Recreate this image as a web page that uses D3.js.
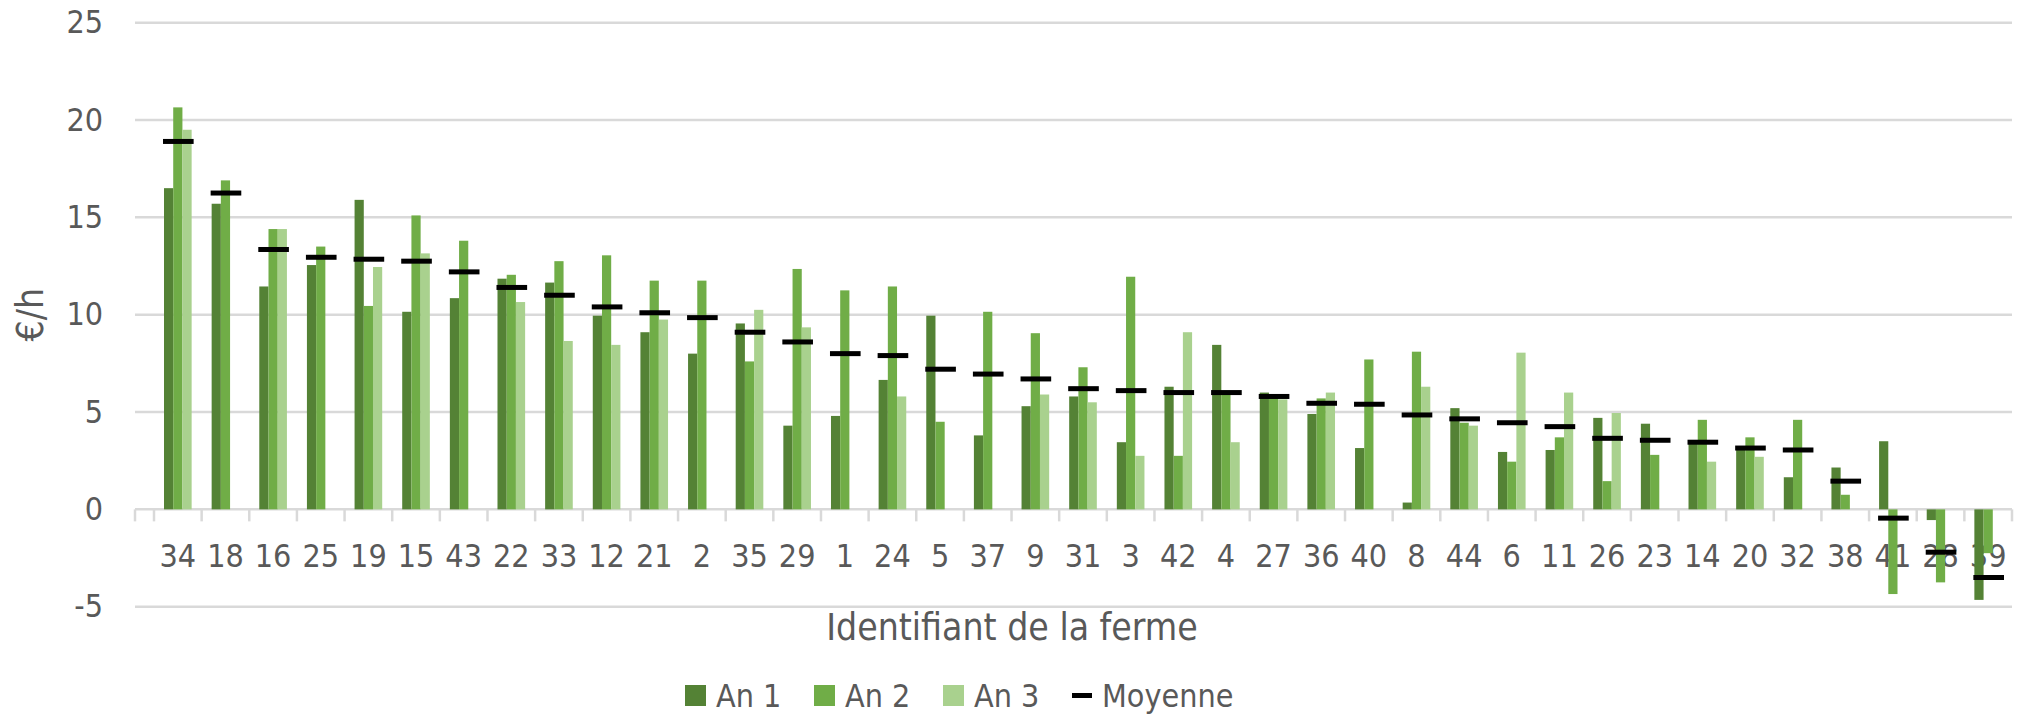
<!DOCTYPE html>
<html>
<head>
<meta charset="utf-8">
<script src="https://cdn.jsdelivr.net/npm/d3@7"></script>
<style>
    body { margin: 0; background: #fff; }
    svg { display: block; }
    text { font-family: 'DejaVu Sans Condensed', 'DejaVu Sans', sans-serif; font-stretch: condensed; }
</style>
</head>
<body>
<div id="chart"></div>
<script>
// Farms, sorted by mean hourly income
const farms = ['34', '18', '16', '25', '19', '15', '43', '22', '33', '12', '21', '2', '35', '29', '1', '24', '5', '37', '9', '31',
    '3', '42', '4', '27', '36', '40', '8', '44', '6', '11', '26', '23', '14', '20', '32', '38', '41', '28', '39'];

const an1 = [16.5, 15.7, 11.45, 12.55, 15.9, 10.15, 10.85, 11.85, 11.65, 9.95, 9.1, 8.0, 9.55, 4.3, 4.8, 6.65, 9.95, 3.8, 5.3, 5.8,
    3.45, 6.3, 8.45, 6.0, 4.9, 3.15, 0.35, 5.2, 2.95, 3.05, 4.7, 4.4, 3.4, 3.15, 1.65, 2.15, 3.5, -0.55, -4.65];

const an2 = [20.65, 16.9, 14.4, 13.5, 10.45, 15.1, 13.8, 12.05, 12.75, 13.05, 11.75, 11.75, 7.6, 12.35, 11.25, 11.45, 4.5, 10.15, 9.05, 7.3,
    11.95, 2.75, 5.9, 5.8, 5.7, 7.7, 8.1, 4.45, 2.45, 3.7, 1.45, 2.8, 4.6, 3.7, 4.6, 0.75, -4.35, -3.75, -2.25];

const an3 = [19.5, null, 14.4, null, 12.45, 13.15, null, 10.65, 8.65, 8.45, 9.75, null, 10.25, 9.35, null, 5.8, null, null, 5.9, 5.5,
    2.75, 9.1, 3.45, 5.65, 6.0, null, 6.3, 4.3, 8.05, 6.0, 4.95, null, 2.45, 2.7, null, null, null, null, null];

const moyenne = [18.9, 16.25, 13.35, 12.95, 12.85, 12.75, 12.2, 11.4, 11.0, 10.4, 10.1, 9.85, 9.1, 8.6, 8.0, 7.9, 7.2, 6.95, 6.7, 6.2,
    6.1, 6.0, 6.0, 5.8, 5.45, 5.4, 4.85, 4.65, 4.45, 4.25, 3.65, 3.55, 3.45, 3.15, 3.05, 1.45, -0.45, -2.2, -3.5];

const seriesNames = ['An 1', 'An 2', 'An 3'];
const yTicks = [-5, 0, 5, 10, 15, 20, 25];

const colors = {
    'An 1': '#548235',
    'An 2': '#70AD47',
    'An 3': '#A9D18E'
};
const textColor = '#595959';
const gridColor = '#D9D9D9';

const width = 2022;
const height = 714;
const plotLeft = 135;
const plotRight = 2012;

const series = [an1, an2, an3];
const bars = [];
farms.forEach((f, i) => {
    seriesNames.forEach((s, j) => {
        if (series[j][i] !== null) bars.push({ farm: f, serie: s, value: series[j][i] });
    });
});

const svg = d3.select('#chart').append('svg')
    .attr('width', width)
    .attr('height', height);

const x0 = d3.scaleBand()
    .domain(farms)
    .range([154, plotRight])
    .paddingInner(0.42)
    .paddingOuter(0.21);

const x1 = d3.scaleBand()
    .domain(seriesNames)
    .range([0, x0.bandwidth()]);

const y = d3.scaleLinear()
    .domain([-5, 25])
    .range([606.7, 22.7]);

// gridlines
svg.append('g')
    .selectAll('line')
    .data(yTicks)
    .join('line')
    .attr('x1', plotLeft)
    .attr('x2', plotRight)
    .attr('y1', d => y(d))
    .attr('y2', d => y(d))
    .attr('stroke', gridColor)
    .attr('stroke-width', 2.5);

// y axis labels (plain hyphen for negatives)
svg.append('g')
    .attr('transform', `translate(${plotLeft},0)`)
    .call(d3.axisLeft(y).tickValues(yTicks).tickFormat(d => String(d)).tickSize(0).tickPadding(32))
    .call(g => g.select('.domain').remove())
    .attr('font-size', 32)
    .attr('font-family', null)
    .style('color', textColor);

// category tick marks (between categories, like the spreadsheet)
const half = (x0.step() - x0.bandwidth()) / 2;
const boundaries = [plotLeft].concat(farms.map(f => x0(f) - half), [x0(farms[farms.length - 1]) + x0.bandwidth() + half]);
svg.append('g')
    .selectAll('line')
    .data(boundaries)
    .join('line')
    .attr('x1', d => d)
    .attr('x2', d => d)
    .attr('y1', y(0))
    .attr('y2', y(0) + 12)
    .attr('stroke', gridColor)
    .attr('stroke-width', 2.5);

// category labels
svg.append('g')
    .attr('transform', `translate(0,${y(0)})`)
    .call(d3.axisBottom(x0).tickSize(0).tickPadding(35))
    .call(g => g.select('.domain').remove())
    .attr('font-size', 32)
    .attr('font-family', null)
    .style('color', textColor);

// bars
svg.append('g')
    .selectAll('rect')
    .data(bars)
    .join('rect')
    .attr('x', d => x0(d.farm) + x1(d.serie))
    .attr('y', d => y(Math.max(0, d.value)))
    .attr('width', x1.bandwidth())
    .attr('height', d => Math.abs(y(d.value) - y(0)))
    .attr('fill', d => colors[d.serie]);

// mean markers
svg.append('g')
    .selectAll('rect')
    .data(farms.map((f, i) => ({ farm: f, value: moyenne[i] })))
    .join('rect')
    .attr('x', d => x0(d.farm) - 1)
    .attr('y', d => y(d.value) - 2.5)
    .attr('width', x0.bandwidth() + 3)
    .attr('height', 5)
    .attr('fill', '#000');

// axis titles
svg.append('text')
    .attr('x', 1012)
    .attr('y', 640)
    .attr('text-anchor', 'middle')
    .attr('font-size', 37)
    .attr('fill', textColor)
    .text('Identifiant de la ferme');

svg.append('text')
    .attr('transform', `translate(43,${(y(-5) + y(25)) / 2}) rotate(-90)`)
    .attr('text-anchor', 'middle')
    .attr('font-size', 37)
    .attr('fill', textColor)
    .text('€/h');

// legend
const legendItems = seriesNames.concat(['Moyenne']);
const legend = svg.append('g')
    .selectAll('g')
    .data(legendItems)
    .join('g')
    .attr('transform', (d, i) => `translate(${685 + i * 129},685)`);

legend.filter(d => d !== 'Moyenne')
    .append('rect')
    .attr('width', 21)
    .attr('height', 21)
    .attr('fill', d => colors[d]);

legend.filter(d => d === 'Moyenne')
    .append('rect')
    .attr('x', 0)
    .attr('y', 8)
    .attr('width', 20)
    .attr('height', 5)
    .attr('fill', '#000');

legend.append('text')
    .attr('x', d => d === 'Moyenne' ? 30 : 31)
    .attr('y', 22)
    .attr('font-size', 32)
    .attr('fill', textColor)
    .text(d => d);
</script>
</body>
</html>
